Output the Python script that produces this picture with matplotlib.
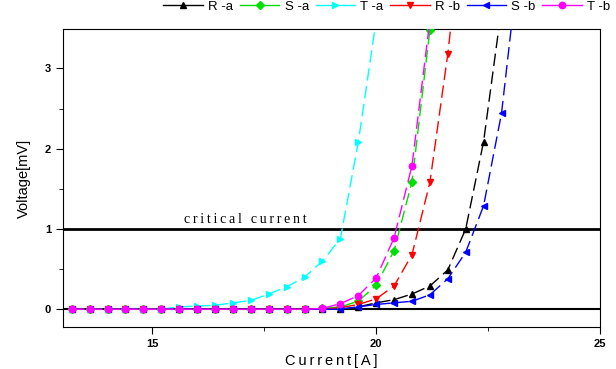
import matplotlib
matplotlib.use("Agg")
import matplotlib.pyplot as plt
from matplotlib.lines import Line2D
from matplotlib.ticker import MultipleLocator

plt.rcParams['font.family'] = ['Liberation Sans', 'DejaVu Sans']

# current grid of the measurement [A]
current = [13.2 + 0.4 * i for i in range(26)]

# voltage [mV] per phase / sample
r_a = [0.0] * 15 + [0.0, 0.03, 0.08, 0.12, 0.19, 0.29, 0.49, 1.0, 2.09, 3.75]
s_a = [0.0] * 14 + [0.01, 0.03, 0.1, 0.3, 0.73, 1.59, 3.48]
t_a = [0.0] * 6 + [0.03, 0.04, 0.05, 0.08, 0.11, 0.19, 0.28, 0.4, 0.6, 0.88, 2.08, 3.6]
r_b = [0.0] * 15 + [0.02, 0.06, 0.13, 0.29, 0.68, 1.58, 3.18, 5.2]
s_b = [0.0] * 15 + [0.0, 0.03, 0.06, 0.08, 0.1, 0.18, 0.38, 0.71, 1.29, 2.44, 4.4]
t_b = [0.0] * 14 + [0.01, 0.07, 0.17, 0.39, 0.89, 1.79, 3.6]

series = [
    ("R -a", r_a, "black", "^"),
    ("S -a", s_a, "#00e000", "D"),
    ("T -a", t_a, "cyan", ">"),
    ("R -b", r_b, "red", "v"),
    ("S -b", s_b, "blue", "<"),
    ("T -b", t_b, "magenta", "o"),
]


def spaced(s):
    # wide letter spacing like the original
    return "\u2009".join(s)


fig = plt.figure(figsize=(6.16, 3.69), dpi=100)
ax = fig.add_axes([0.102, 0.114, 0.872, 0.807])

ax.axhline(0, color="black", lw=1.5, zorder=1)
ax.axhline(1, color="black", lw=2, zorder=1)

handles = []
for name, vals, col, mk in series:
    ms = 3.8 if mk == "D" else 4.6
    ax.plot(current[:len(vals)], vals, color=col, marker=mk, ms=ms,
            lw=1, ls=(0, (9, 4)), zorder=3)
    handles.append(Line2D([], [], color=col, marker=mk, ms=ms, lw=1))

ax.text(15.7, 1.08, spaced("critical current"), family="Liberation Serif",
        fontsize=10)

ax.set_xlim(13, 25)
ax.set_ylim(-0.22, 3.49)
ax.xaxis.set_major_locator(MultipleLocator(5))
ax.xaxis.set_minor_locator(MultipleLocator(2.5))
ax.yaxis.set_major_locator(MultipleLocator(1))
ax.yaxis.set_minor_locator(MultipleLocator(0.5))
ax.tick_params(which="both", direction="out", top=False, right=False)
ax.tick_params(which="major", length=5, labelsize=8)
ax.tick_params(which="minor", length=3)
for lab in ax.get_xticklabels() + ax.get_yticklabels():
    lab.set_fontweight("bold")

ax.set_xlabel(spaced("Current[A]"), fontsize=10.5)
ax.set_ylabel("Voltage[mV]", fontsize=10.5, labelpad=10)

fig.legend(handles, [s[0] for s in series], ncol=6, frameon=False,
           loc="upper right", bbox_to_anchor=(1.01, 1.03), fontsize=9.5,
           handlelength=3, columnspacing=0.5, handletextpad=0.4)

fig.savefig("out.png", dpi=100)
